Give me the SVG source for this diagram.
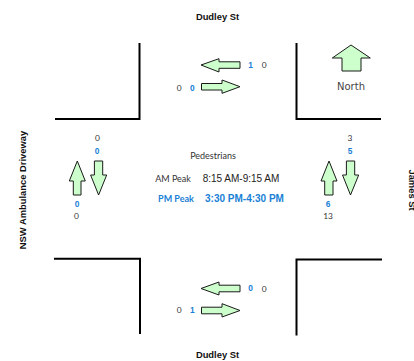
<svg xmlns="http://www.w3.org/2000/svg" width="414" height="361" viewBox="0 0 414 361">
<style>
.kerb{fill:none;stroke:#000;stroke-width:2}
.arr{fill:#ccffcc;stroke:#1a1a1a;stroke-width:1;stroke-linejoin:miter}
text{text-anchor:middle}
.road{font:bold 9.4px "Liberation Sans",Arial,sans-serif;fill:#111}
.n{font:8.4px Lato,sans-serif;fill:#333}
.b{font:bold 8.4px "Liberation Sans",sans-serif;fill:#1a7fd6}
.s{font:9px Lato,sans-serif;fill:#333}
.t{font:10px "Liberation Sans",Arial,sans-serif;fill:#222}
</style>
<rect width="414" height="361" fill="#fff"/>
<g id="connectors">
<path class="kerb" d="M55 119H139.5V43"/>
<path class="kerb" d="M296.5 43V119H381"/>
<path class="kerb" d="M54 258.7H140V334"/>
<path class="kerb" d="M296.5 335.5V259.5H382"/>
</g>
<g id="arrow-top-west"><path class="arr" d="M201 65L219 58.7V61.8H240V68.3H219V72Z"/></g>
<g id="arrow-top-east"><path class="arr" d="M240 86.7L222 80V83.5H201.5V90H222V93.3Z"/></g>
<g id="arrow-bottom-west"><path class="arr" d="M201 288.5L219 282V285.2H240V291.8H219V295Z"/></g>
<g id="arrow-bottom-east"><path class="arr" d="M240 310.5L222 303.7V307.2H201.5V313.8H222V317Z"/></g>
<g id="arrow-left-north"><path class="arr" d="M77.3 161L85.3 181H81V195H73.3V181H69.3Z"/></g>
<g id="arrow-left-south"><path class="arr" d="M98.6 195L106.7 175H102.7V161H94.4V175H90.6Z"/></g>
<g id="arrow-right-north"><path class="arr" d="M329 161L337 181H333V195H324.7V181H321Z"/></g>
<g id="arrow-right-south"><path class="arr" d="M350.5 195L358.7 175H354.7V161H346.4V175H342.5Z"/></g>
<g id="north"><path class="arr" d="M351 45L370.3 58H361V71H342V58H332.3Z"/>
<text x="351" y="90" style="font:10px 'DejaVu Sans',sans-serif;fill:#444">North</text></g>
<g id="label-dudley-top"><text class="road" x="217.5" y="20">Dudley St</text></g>
<g id="label-dudley-bottom"><text class="road" x="217.5" y="358">Dudley St</text></g>
<g id="label-nsw"><text class="road" transform="translate(25.7 190) rotate(-90)">NSW Ambulance Driveway</text></g>
<g id="label-james"><text class="road" transform="translate(409 190) rotate(90)">James St</text></g>
<g id="counts">
<text class="b" x="250.7" y="68">1</text><text class="n" x="264.3" y="68">0</text>
<text class="n" x="179.3" y="90.7">0</text><text class="b" x="192.3" y="90.7">0</text>
<text class="n" x="97.5" y="140.5">0</text><text class="b" x="97.2" y="153.7">0</text>
<text class="b" x="77" y="206.7">0</text><text class="n" x="76.5" y="218.7">0</text>
<text class="n" x="350" y="140.5">3</text><text class="b" x="350" y="153.7">5</text>
<text class="b" x="328" y="206.7">6</text><text class="n" x="328" y="218.7">13</text>
<text class="b" x="250.7" y="290.7">0</text><text class="n" x="264.3" y="291.5">0</text>
<text class="n" x="179.3" y="313.3">0</text><text class="b" x="192.3" y="313.3">1</text>
</g>
<g id="peaks">
<text class="s" x="213" y="159">Pedestrians</text>
<text class="s" x="173" y="181.5">AM Peak</text>
<text class="t" x="241" y="181.7">8:15 AM-9:15 AM</text>
<text class="s" x="176" y="201.7" style="font-weight:bold;fill:#1a7fd6">PM Peak</text>
<text class="t" x="244.5" y="201.7" style="font-weight:bold;fill:#1a7fd6">3:30 PM-4:30 PM</text>
</g>
</svg>
